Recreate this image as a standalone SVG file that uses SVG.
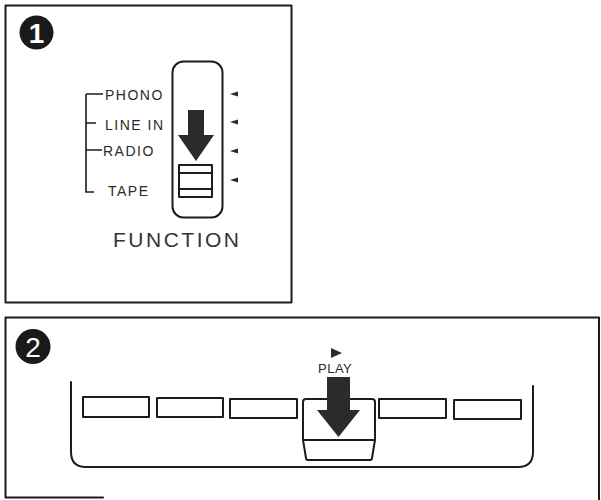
<svg xmlns="http://www.w3.org/2000/svg" width="601" height="500" viewBox="0 0 601 500">
<style>
.ln{fill:none;stroke:#1c1c1c;stroke-width:2;stroke-linejoin:round;stroke-linecap:round}
.thin{fill:none;stroke:#1c1c1c;stroke-width:1.6}
.dark{fill:#2b2b2b}
.lbl{font-family:"Liberation Sans",Arial,sans-serif;font-size:14px;letter-spacing:1.5px;fill:#2a2a2a}
.num{font-family:"Liberation Sans",Arial,sans-serif;font-size:28px;fill:#fff;text-anchor:middle}
</style>
<rect width="601" height="500" fill="#fff"/>
<g id="panel1">
  <rect class="ln" x="5.5" y="5.5" width="286" height="297"/>
  <g id="badge1">
    <circle cx="36.5" cy="32.5" r="17" fill="#1a1a1a"/>
    <text class="num" x="36.5" y="42.5" font-weight="bold">1</text>
  </g>
  <g id="selector-labels">
    <path class="thin" d="M86,94 V192 H94 M86,94 H103 M86,123 H96 M86,150 H102"/>
    <text class="lbl" x="105" y="100">PHONO</text>
    <text class="lbl" x="105" y="130">LINE IN</text>
    <text class="lbl" x="103" y="156">RADIO</text>
    <text class="lbl" x="108" y="196">TAPE</text>
  </g>
  <g id="switch">
    <rect class="ln" x="172.5" y="61.5" width="50" height="156" rx="11"/>
    <polygon class="dark" points="188,110 204,110 204,135 214,135 196,161 178,135 188,135"/>
    <rect class="ln" x="179" y="165" width="33" height="32"/>
    <path class="ln" d="M179,173 H212 M179,189 H212"/>
  </g>
  <g id="indicators" class="dark">
    <polygon points="230,94 238,91.5 238,96.5"/>
    <polygon points="230,122 238,119.5 238,124.5"/>
    <polygon points="230,151 238,148.5 238,153.5"/>
    <polygon points="230,180 238,177.5 238,182.5"/>
  </g>
  <text x="113" y="247" font-family="'Liberation Sans',Arial,sans-serif" font-size="21" letter-spacing="2.5" fill="#333">FUNCTION</text>
</g>
<g id="panel2">
  <path class="ln" d="M103,497.5 H5.5 V317.5 H599 V500"/>
  <g id="badge2">
    <circle cx="33" cy="346.5" r="17.5" fill="#1a1a1a"/>
    <text class="num" x="33" y="356.5">2</text>
  </g>
  <g id="tray">
    <path class="ln" d="M71,382 V452 Q71,467 86,467 H518 Q533,467 533,452 V386"/>
  </g>
  <g id="buttons">
    <rect class="ln" x="83" y="397" width="66" height="20"/>
    <rect class="ln" x="157" y="398" width="66" height="19"/>
    <rect class="ln" x="230" y="399" width="67" height="19"/>
    <rect class="ln" x="379" y="399" width="67" height="19"/>
    <rect class="ln" x="454" y="400" width="67" height="19"/>
  </g>
  <g id="play-button">
    <path class="ln" d="M303,440 V402 Q303,399 306,399 H372 Q375,399 375,402 V440 Z M303,440 L306,458 Q306,460 308,460 H370 Q372,460 372,458 L375,440"/>
    <polygon class="dark" points="327,377 350,377 350,410 360,410 338.5,437 317,410 327,410"/>
    <polygon class="dark" points="331,348 342,353 331,358"/>
    <text x="318" y="373" font-family="'Liberation Sans',Arial,sans-serif" font-size="13" letter-spacing="0.5" fill="#2a2a2a">PLAY</text>
  </g>
</g>
</svg>
